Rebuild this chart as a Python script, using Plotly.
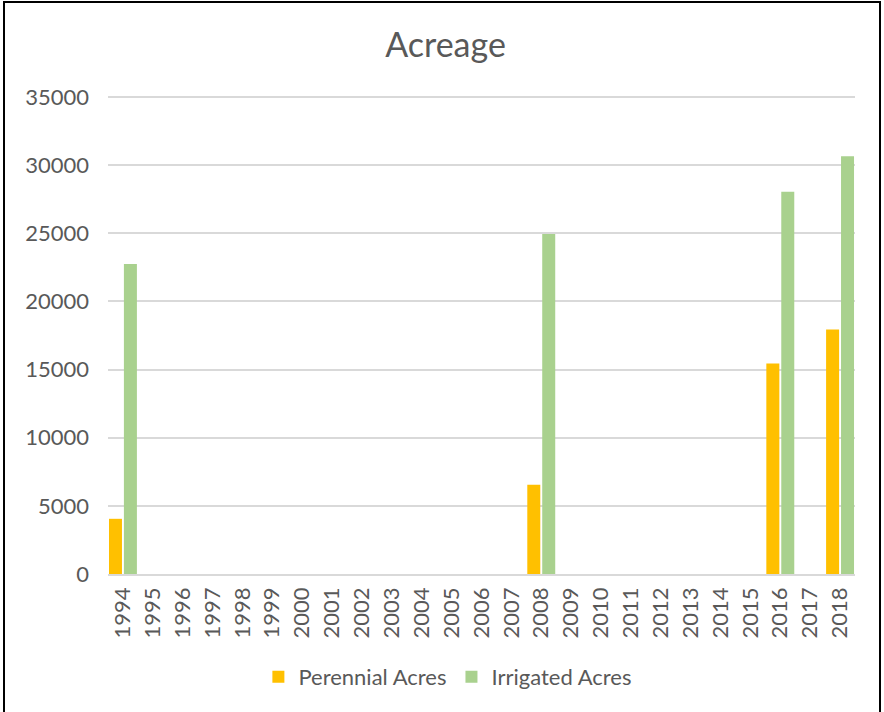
import plotly.graph_objects as go

years = [str(y) for y in range(1994, 2019)]
perennial = {'1994': 4050, '2008': 6550, '2016': 15450, '2018': 17950}
irrigated = {'1994': 22750, '2008': 24950, '2016': 28050, '2018': 30650}

perennial_acres = [perennial.get(y) for y in years]
irrigated_acres = [irrigated.get(y) for y in years]

W, H = 884, 712
L, R, T, B = 108, 29, 93, 138
pw, ph = W - L - R, H - T - B

font = 'Lato, Open Sans, sans-serif'
grey = '#595959'

fig = go.Figure()
fig.add_trace(go.Bar(x=years, y=perennial_acres, name='Perennial Acres',
                     marker=dict(color='#FFC000', line=dict(width=0))))
fig.add_trace(go.Bar(x=years, y=irrigated_acres, name='Irrigated Acres',
                     marker=dict(color='#A9D18E', line=dict(width=0))))

# black frame round the whole chart
fig.add_shape(type='rect', xref='paper', yref='paper',
              x0=(4 - L) / pw, x1=(880 - L) / pw,
              y0=(H - B - 720) / ph, y1=(H - B - 2) / ph,
              line=dict(color='black', width=2))

fig.update_layout(
    width=W, height=H,
    margin=dict(l=L, r=R, t=T, b=B, autoexpand=False),
    paper_bgcolor='white', plot_bgcolor='white',
    font=dict(family=font, color=grey, size=22),
    title=dict(text='Acreage', x=445.5 / W, xanchor='center', xref='container',
               y=1 - 45 / H, yanchor='middle', yref='container',
               font=dict(size=34, color=grey)),
    barmode='group', bargap=0.0, bargroupgap=0.13,
    showlegend=True,
    legend=dict(orientation='h', x=0.455, xanchor='center',
                y=1 - 677 / H, yref='container',
                yanchor='middle', font=dict(size=22, color=grey),
                itemwidth=30, traceorder='normal'),
    xaxis=dict(type='category', tickangle=-90, showgrid=False,
               showline=True, linecolor='#d9d9d9', linewidth=1.5,
               ticks='', ticklabelstandoff=3, tickfont=dict(size=22),
               automargin=False),
    yaxis=dict(range=[0, 35300], tickvals=[0, 5000, 10000, 15000, 20000, 25000, 30000, 35000],
               tickformat='d', showgrid=True,
               gridcolor='#d9d9d9', gridwidth=1.5, zeroline=False,
               showline=False, ticks='', ticklabelstandoff=18,
               tickfont=dict(size=22), automargin=False),
)

fig.write_html('out.html', config={'displayModeBar': False},
               post_script="document.body.style.margin='0';")
